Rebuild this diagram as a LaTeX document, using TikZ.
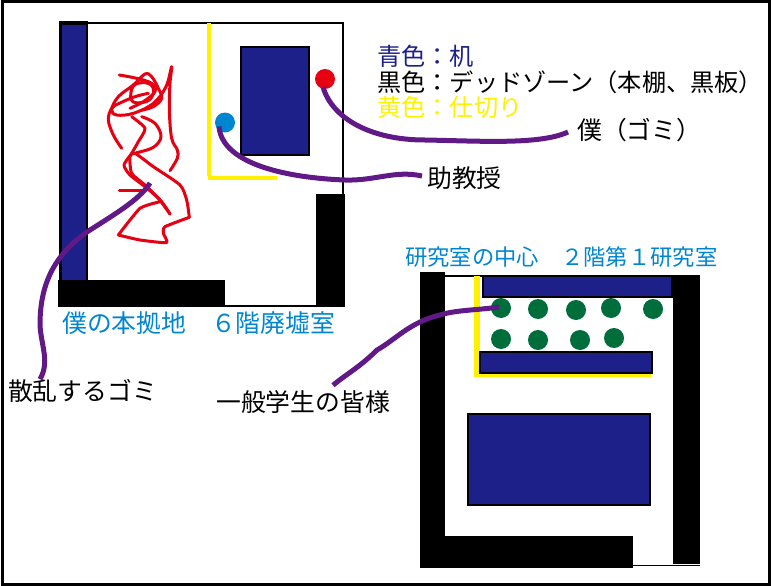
\documentclass[tikz,border=0pt]{standalone}
\usepackage{fontspec}
\setmainfont{Noto Sans CJK JP}
\usetikzlibrary{calc}
\definecolor{desknavy}{HTML}{1D2088}
\definecolor{labelblue}{HTML}{0086D1}
\definecolor{partyellow}{HTML}{FFF100}
\definecolor{leaderpurple}{HTML}{601986}
\definecolor{litterred}{HTML}{E60012}
\definecolor{studentgreen}{HTML}{006E3A}
\tikzset{
	desk/.style={fill=desknavy,draw=black,line width=2pt},
	deadzone/.style={fill=black},
	partition/.style={fill=partyellow},
	person/.style={circle,inner sep=0pt,minimum size=20pt},
	student/.style={person,fill=studentgreen},
	leader/.style={leaderpurple,line width=5pt},
	litter/.style={litterred,line width=3pt,line join=round,line cap=round},
	bigtext/.style={anchor=west,inner sep=0pt,font=\fontsize{24.8}{28}\selectfont},
	legendtext/.style={anchor=west,inner sep=0pt,font=\fontsize{24.2}{28}\selectfont},
	smalltext/.style={anchor=west,inner sep=0pt,font=\fontsize{22.3}{26}\selectfont,text=labelblue},
}
\begin{document}
\begin{tikzpicture}[x=1pt,y=-1pt]
	\useasboundingbox (0,0) rectangle (771,586);

	% Outer frame
	\draw[line width=3pt] (2,2) rectangle (769,584);

	% Room on the sixth floor
	\draw[line width=2pt] (60,23) -- (343,23) -- (343,194);
	\draw[line width=1.5pt] (225,306) -- (317,306);
	\fill[deadzone] (59,21.5) rectangle (88,280);
	\fill[desknavy] (62,25) rectangle (86,280);
	\fill[deadzone] (58,280) rectangle (225,307);
	\fill[deadzone] (316,194) rectangle (345,307);
	\fill[partition] (207,23) rectangle (211,176);
	\fill[partition] (208,176) rectangle (277,180);
	\draw[desk] (241,47) rectangle (309,155);

	% Litter
	\begin{scope}[shift={(90,60)},scale=1/3]
		\draw[litter] plot[smooth,tension=0.6] coordinates {(240,332) (262,295) (262,270) (245,235) (238,150) (240,70) (245,20) (228,80) (190,130) (130,160) (80,165) (65,148) (85,110) (130,75) (165,42) (185,50) (205,85) (215,115) (190,140) (150,152)};
		\draw[litter] plot[smooth,tension=0.6] coordinates {(88,45) (140,55) (185,70) (195,95) (160,125) (120,145)};
		\draw[litter] plot[smooth,tension=0.6] coordinates {(95,265) (70,225) (55,180) (65,145) (88,130) (135,110) (175,100)};
		\draw[litter] plot[smooth,tension=0.7] coordinates {(122,112) (130,78) (165,68) (190,85) (178,120) (135,128) (122,112)};
		\draw[litter] plot[smooth,tension=0.4] coordinates {(125,170) (165,205) (145,245) (125,280) (102,315) (120,345) (165,380) (205,415) (240,462)};
		\draw[litter] plot[smooth,tension=0.4] coordinates {(240,462) (215,425) (165,375) (125,340) (120,290) (135,280) (190,320) (270,375) (290,420) (298,472)};
		\draw[litter] plot[smooth,tension=0.3] coordinates {(298,472) (225,500) (220,520) (230,548) (150,540) (85,525)};
		\draw[litter] plot[smooth,tension=0.3] coordinates {(85,525) (150,445) (210,425)};
		\draw[litter] plot[smooth,tension=0.6] coordinates {(155,170) (195,190) (213,230) (190,262) (140,278)};
		\draw[litter] (88,392) -- (165,392);
	\end{scope}
	\coordinate (litterspot) at (150,183);

	% People on the sixth floor
	\node[person,fill=litterred] (reddot) at (325,79) {};
	\node[person,fill=labelblue] (bluedot) at (225,122.5) {};

	% Room on the second floor
	\draw[line width=2pt] (445,275.5) -- (673,275.5);
	\draw[line width=1.5pt] (633,565.5) -- (700,565.5);
	\fill[deadzone] (420,272) rectangle (445,568);
	\fill[deadzone] (420,536) rectangle (633,568);
	\fill[deadzone] (673,275) rectangle (700,564);
	\fill[partition] (474,276) rectangle (480,377);
	\fill[partition] (474,372) rectangle (651,377);
	\draw[desk] (483,276) rectangle (672,297);
	\draw[desk] (480,352) rectangle (652,372.5);
	\draw[desk] (468,414) rectangle (650,505);

	% Students
	\node[student] (studentfirst) at (501,308) {};
	\node[student] (studentb) at (538,309) {};
	\node[student] (studentc) at (576,310) {};
	\node[student] (studentd) at (611,308) {};
	\node[student] (studente) at (653,309) {};
	\node[student] (studentf) at (501,339) {};
	\node[student] (studentg) at (538,340) {};
	\node[student] (studenth) at (580,340) {};
	\node[student] (studenti) at (614,338) {};

	% Legend
	\node[legendtext,text=desknavy] (legendblue) at (377,56) {青色：机};
	\node[legendtext] (legendblack) at (377,82) {黒色：デッドゾーン（本棚、黒板）};
	\node[legendtext,text=partyellow] (legendyellow) at (377,107) {黄色：仕切り};

	% Labels
	\node[bigtext,text=labelblue] (floorsix) at (62,323) {僕の本拠地　６階廃墟室};
	\node[smalltext] (floortwo) at (405,257) {研究室の中心　２階第１研究室};
	\node[bigtext] (melabel) at (577,130) {僕（ゴミ）};
	\node[bigtext] (proflabel) at (427,178) {助教授};
	\node[bigtext] (litterlabel) at (8,391) {散乱するゴミ};
	\node[bigtext] (studentlabel) at (216,402) {一般学生の皆様};

	% Leaders
	\draw[leader] ($(reddot)+(-2,8)$) .. controls (332,118) and (370,140) .. (425,140) .. controls (480,141) and (540,145) .. ($(melabel.west)+(-9,2)$);
	\draw[leader] ($(bluedot)+(-6,4)$) .. controls (222,165) and (290,178) .. (345,180) .. controls (375,181) and (395,170) .. ($(proflabel.west)+(-5,-2)$);
	\draw[leader] (litterspot) .. controls (140,200) and (110,217) .. (87,232) .. controls (50,258) and (40,290) .. (40,325) .. controls (41,345) and (50,362) .. ($(litterlabel.north west)+(32,0)$);
	\draw[leader] ($(studentfirst)+(-2,-1)$) .. controls (480,310) and (455,310) .. (440,315) .. controls (410,322) and (395,340) .. (377,350) .. controls (360,367) and (345,375) .. ($(studentlabel.north)+(30,-5)$);
\end{tikzpicture}
\end{document}
